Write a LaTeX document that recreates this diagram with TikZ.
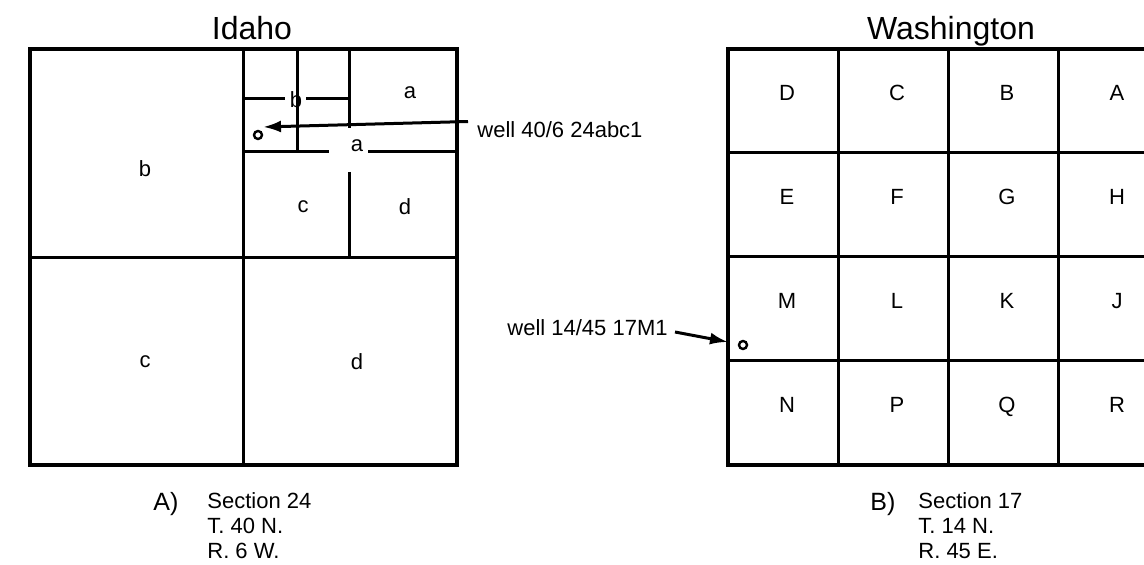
\documentclass[tikz,border=0pt]{standalone}
\usepackage{fontspec}
\setmainfont{Liberation Sans}
\usetikzlibrary{arrows.meta, positioning}

\begin{document}
\begin{tikzpicture}[
        x=0.5pt, y=-0.5pt,
        frame/.style={
            line width=1.8pt
        },
        divider/.style={
            line width=1.5pt
        },
        cell_label/.style={
            inner sep=0pt,
            font=\fontsize{11}{13}\selectfont
        },
        title_label/.style={
            inner sep=0pt,
            anchor=base,
            font=\fontsize{16}{19}\selectfont
        },
        well_label/.style={
            inner ysep=0pt,
            inner xsep=4.5pt,
            font=\fontsize{11}{13}\selectfont
        },
        well_mark/.style={
            circle,
            draw,
            line width=1.2pt,
            minimum size=4pt,
            inner sep=0pt
        },
        pointer/.style={
            -{Latex[length=9pt, width=6pt]},
            line width=1.5pt
        },
        key_letter/.style={
            inner sep=0pt,
            anchor=base west,
            font=\fontsize{12.5}{14}\selectfont
        },
        caption_text/.style={
            inner sep=0pt,
            anchor=north west,
            align=left,
            font=\fontsize{11}{12.5}\selectfont
        }
    ]

    \clip (0,0) rectangle (1144,565);

    % Idaho section
    \node[title_label] (idaho) at (252,40) {Idaho};
    \draw[frame] (30,49) rectangle (457,465);
    \draw[divider] (243,49) -- (243,465);
    \draw[divider] (30,258) -- (457,258);
    \draw[divider] (243,152) -- (329,152);
    \draw[divider] (368,152) -- (457,152);
    \draw[divider] (349,49) -- (349,128);
    \draw[divider] (349,172) -- (349,258);
    \draw[divider] (297,49) -- (297,152);
    \draw[divider] (243,99) -- (285,99);
    \draw[divider] (306,99) -- (349,99);

    \node[cell_label] (id-b) at (145,169) {b};
    \node[cell_label] (id-c) at (145,362) {c};
    \node[cell_label] (id-d) at (357,362) {d};
    \node[cell_label] (id-aa) at (410,93) {a};
    \node[cell_label] (id-ab) at (296,100) {b};
    \node[cell_label] (id-a) at (357,146) {a};
    \node[cell_label] (id-ac) at (303,207) {c};
    \node[cell_label] (id-ad) at (405,207) {d};

    \node[well_mark] (markA) at (258,135) {};
    \coordinate (tipA) at (263,127);
    \node[well_label, anchor=west] (wellA) at (468,130) {well 40/6 24abc1};
    \draw[pointer] (wellA.north west) -- (tipA);

    \node[key_letter] (keyA) at (153,510) {A)};
    \node[caption_text] (capA) at (207,492) {Section 24\\T. 40 N.\\R. 6 W.};

    % Washington section
    \node[title_label] (washington) at (951,40) {Washington};
    \draw[frame] (728,49) rectangle (1168,465);
    \foreach \col in {1,2,3}
        \draw[divider] (728+110*\col,49) -- (728+110*\col,465);
    \foreach \row in {1,2,3}
        \draw[divider] (728,49+104*\row) -- (1168,49+104*\row);

    \foreach \lab [count=\i from 0] in {D,C,B,A,E,F,G,H,M,L,K,J,N,P,Q,R} {
        \pgfmathtruncatemacro\col{mod(\i,4)}
        \pgfmathtruncatemacro\row{div(\i,4)}
        \node[cell_label, anchor=base] (tract-\lab) at (787+110*\col,101+104*\row) {\lab};
    }

    \node[well_mark] (markB) at (743,345) {};
    \coordinate (tipB) at (728,342);
    \node[well_label, anchor=east, inner xsep=3.5pt] (wellB) at (675,328) {well 14/45 17M1};
    \draw[pointer] ([yshift=-2pt]wellB.east) -- (tipB);

    \node[key_letter] (keyB) at (870,510) {B)};
    \node[caption_text] (capB) at (918,492) {Section 17\\T. 14 N.\\R. 45 E.};

\end{tikzpicture}
\end{document}
